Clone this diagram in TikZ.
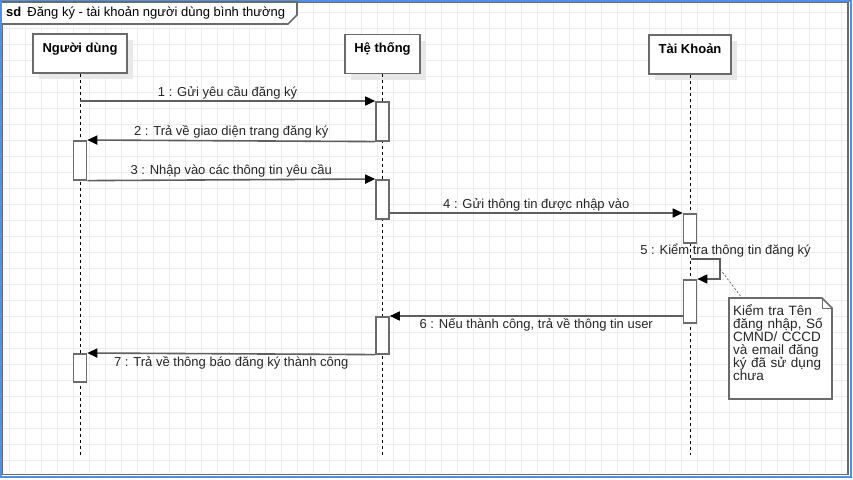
\documentclass[tikz,border=0pt]{standalone}
\usepackage{fontspec}
\setmainfont{Liberation Sans}
\usepackage{xcolor}
\usetikzlibrary{arrows.meta, positioning, calc, shadows}
\definecolor{linegray}{HTML}{6B6B6B}
\definecolor{msggray}{HTML}{5E5E5E}
\definecolor{gridgray}{HTML}{ECECEC}
\definecolor{shadegray}{HTML}{E8E8E8}
\definecolor{selblue}{HTML}{4F8FE6}
\tikzset{
  head/.style={draw=linegray, line width=1.6pt, fill=white, font=\fontsize{13}{15}\selectfont\bfseries, text height=13pt, text depth=16pt, inner sep=5pt, drop shadow={shadow xshift=6pt, shadow yshift=-6pt, fill=shadegray, opacity=1}},
  act/.style={draw=linegray, line width=1.6pt, fill=white, minimum width=13pt, inner sep=0pt, anchor=north},
  lifeline/.style={black, line width=0.9pt, dash pattern=on 3pt off 3pt},
  msg/.style={-{Triangle[length=10pt, width=9pt, color=black]}, msggray, line width=1.6pt},
  msglabel/.style={text=black!85, inner sep=1.5pt},
  noteline/.style={black!70, line width=0.6pt, dash pattern=on 2pt off 2pt},
  gridline/.style={gridgray, line width=0.8pt},
  every node/.style={font=\fontsize{13}{15}\selectfont}
}
\begin{document}
\begin{tikzpicture}[x=1pt, y=-1pt]
    \useasboundingbox (0,0) rectangle (853,479);
    \foreach \gx in {9,25,...,841} \draw[gridline] (\gx,2) -- (\gx,473);
    \foreach \gy in {12,28,...,460} \draw[gridline] (2,\gy) -- (848,\gy);
    \draw[linegray, line width=1.6pt] (2,2) rectangle (848,474.5);
    \draw[selblue, line width=1.5pt] (0.75,0.75) rectangle (851,477);
    \draw[linegray, line width=1.6pt, fill=white] (2,2) -- (297,2) -- (297,15) -- (288,24) -- (2,24);
    \node[anchor=west, inner sep=2pt] (title) at (4,13) {\textbf{sd}\hspace{6pt}Đăng ký - tài khoản người dùng bình thường};

    \node[head, minimum width=94pt] (user) at (80,53.5) {Người dùng};
    \node[head, minimum width=75pt] (sys) at (382.5,54) {Hệ thống};
    \node[head, minimum width=82pt] (acc) at (690,54.5) {Tài Khoản};

    \draw[lifeline] (user.south) -- (user.south |- 0,455);
    \draw[lifeline] (sys.south) -- (sys.south |- 0,455);
    \draw[lifeline] (acc.south) -- (acc.south |- 0,455);

    \node[act, minimum height=39pt] (actS1) at (sys.south |- 0,101) {};
    \node[act, minimum height=39pt] (actU1) at (user.south |- 0,140) {};
    \node[act, minimum height=39pt] (actS2) at (sys.south |- 0,179) {};
    \node[act, minimum height=29pt] (actA1) at (acc.south |- 0,213) {};
    \node[act, minimum height=43pt] (actA2) at (acc.south |- 0,279) {};
    \node[act, minimum height=37pt] (actS3) at (sys.south |- 0,316) {};
    \node[act, minimum height=28pt] (actU2) at (user.south |- 0,353) {};

    \coordinate (s5) at (691,259);
    \coordinate (c5) at (720,269);

    \draw[msg] (user.south |- actS1.north) -- node[msglabel, above] {1 : Gửi yêu cầu đăng ký} (actS1.north west);
    \draw[msg] (actS1.south west) -- node[msglabel, above] {2 : Trả về giao diện trang đăng ký} (actU1.north east);
    \draw[msg] (actU1.south east) -- node[msglabel, above] {3 : Nhập vào các thông tin yêu cầu} (actS2.north west);
    \draw[msg] (actS2.east |- actA1.north) -- node[msglabel, above] {4 : Gửi thông tin được nhập vào} (actA1.north west);
    \draw[msg] (s5) -- node[msglabel, above, xshift=20pt] {5 : Kiểm tra thông tin đăng ký} ++(29,0) |- (actA2.north east);
    \draw[msg] (actA2.west |- actS3.north) -- node[msglabel, below] {6 : Nếu thành công, trả về thông tin user} (actS3.north east);
    \draw[msg] (actS3.south west) -- node[msglabel, below] {7 : Trả về thông báo đăng ký thành công} (actU2.north east);

    \draw[linegray, line width=1.6pt, fill=white] (729,298) -- (822,298) -- (832,308) -- (832,399) -- (729,399) -- cycle;
    \draw[linegray, line width=0.8pt] (822,298) |- (832,308);
    \node[anchor=north west, text width=98pt, align=left, inner sep=2pt, font=\fontsize{13.5}{13}\selectfont, text=black!85] (note) at (731,302) {Kiểm tra Tên\\đăng nhập, Số\\CMND/ CCCD\\và email đăng\\ký đã sử dụng\\chưa};
    \coordinate (notetop) at (742,298);
    \draw[noteline] (c5) -- (notetop);
\end{tikzpicture}
\end{document}
